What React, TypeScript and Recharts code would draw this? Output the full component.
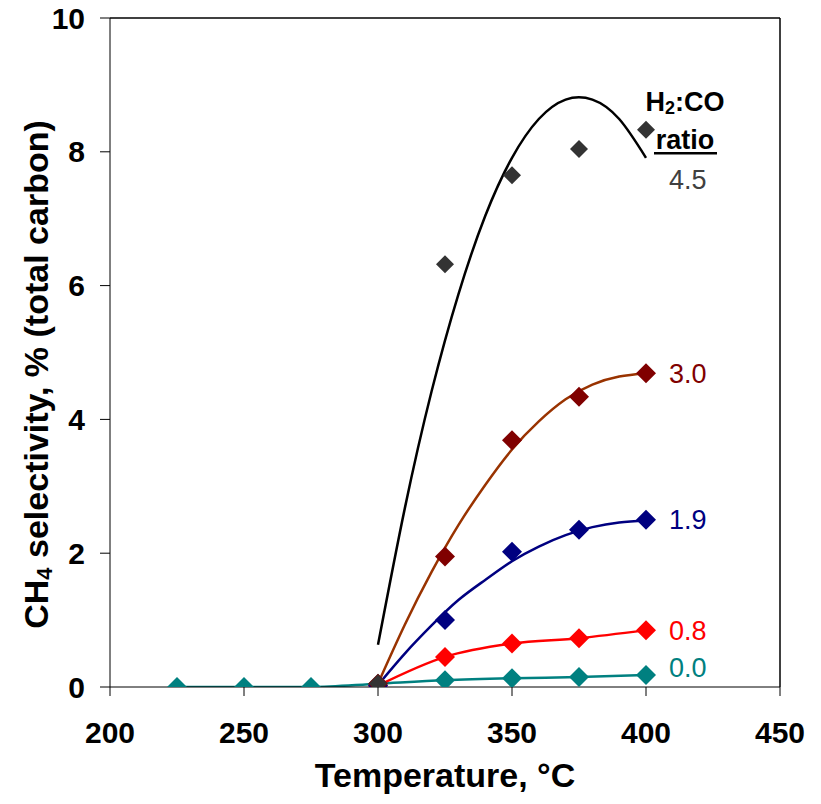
import React from 'react'
import {
  ComposedChart,
  XAxis,
  YAxis,
  Scatter,
  Line,
  ReferenceLine,
  ReferenceDot,
} from 'recharts'

// measured points (temperature, CH4 selectivity %)
const temps = [300, 325, 350, 375, 400]
const ratio45 = [0.05, 6.32, 7.65, 8.04, 8.33]
const ratio30 = [0.05, 1.95, 3.69, 4.34, 4.69]
const ratio19 = [0.02, 1.0, 2.02, 2.35, 2.5]
const ratio08 = [0.02, 0.45, 0.65, 0.73, 0.85]
const temps00 = [225, 250, 275, 300, 325, 350, 375, 400]
const ratio00 = [0, 0, 0, 0.05, 0.1, 0.13, 0.15, 0.18]

// fitted curves
const fitTemps = [300, 310, 320, 330, 340, 350, 360, 370, 380, 390, 400]
const fit45 = [0.63, 2.67, 4.42, 5.87, 7.04, 7.91, 8.49, 8.78, 8.78, 8.49, 7.91]
const fit30 = [0.05, 0.93, 1.72, 2.42, 3.02, 3.55, 3.97, 4.3, 4.52, 4.64, 4.69]
const fit19 = [0.03, 0.5, 0.92, 1.3, 1.6, 1.88, 2.1, 2.27, 2.39, 2.46, 2.49]

const xTicks = [200, 250, 300, 350, 400, 450]
const yTicks = [0, 2, 4, 6, 8, 10]

const toPts = (xs: number[], ys: number[]) => xs.map((x, i) => ({ x, y: ys[i] }))

const FONT = '"Liberation Sans", Arial, sans-serif'

const diamond = (color: string, h: number) => (props: any) => {
  const { cx, cy } = props
  if (cx == null || cy == null) return <g />
  return (
    <polygon
      points={`${cx},${cy - h} ${cx + h},${cy} ${cx},${cy + h} ${cx - h},${cy}`}
      fill={color}
    />
  )
}

const YTitle = (props: any) => {
  const vb = props.viewBox || { x: 0, y: 18, width: 110, height: 669 }
  const cx = vb.x + 36
  const cy = vb.y + vb.height / 2 + 22
  return (
    <text
      x={cx}
      y={cy}
      transform={`rotate(-90, ${cx}, ${cy})`}
      textAnchor="middle"
      dominantBaseline="central"
      fontFamily={FONT}
      fontWeight="bold"
      fontSize={34}
      fill="#000"
    >
      CH<tspan fontSize={22} dy={8}>4</tspan>
      <tspan dy={-8}> selectivity, % (total carbon)</tspan>
    </text>
  )
}

const XTitle = (props: any) => {
  const vb = props.viewBox || { x: 110, y: 687, width: 670, height: 117 }
  return (
    <text
      x={vb.x + vb.width / 2}
      y={775}
      textAnchor="middle"
      dominantBaseline="central"
      fontFamily={FONT}
      fontWeight="bold"
      fontSize={34}
      fill="#000"
    >
      Temperature, °C
    </text>
  )
}

const RatioHeader = (props: any) => {
  const vb = props.viewBox || { x: 0, y: 0 }
  const cx = vb.x + 39
  const cy = vb.y
  return (
    <g fontFamily={FONT} fontWeight="bold" fontSize={27} fill="#000">
      <text x={cx} y={cy} textAnchor="middle" dominantBaseline="central">
        H<tspan fontSize={18} dy={6}>2</tspan>
        <tspan dy={-6}>:CO</tspan>
      </text>
      <text x={cx} y={cy + 38} textAnchor="middle" dominantBaseline="central">
        ratio
      </text>
      <line x1={cx - 31} x2={cx + 32} y1={cy + 51} y2={cy + 51} stroke="#000" strokeWidth={2.5} />
    </g>
  )
}

const ratioNames = ['4.5', '3.0', '1.9', '0.8', '0.0']
const ratioColors = ['#404040', '#800000', '#000080', '#ff0000', '#008080']
const labelAt = [7.58, 4.69, 2.51, 0.84, 0.3]

export default function App() {
  return (
    <div style={{ position: 'absolute', left: 0, top: 0 }}>
      <ComposedChart
        width={821}
        height={804}
        margin={{ top: 18, right: 41, left: 0, bottom: 0 }}
      >
        <XAxis
          type="number"
          dataKey="x"
          domain={[200, 450]}
          ticks={xTicks}
          allowDataOverflow
          height={117}
          tickSize={9}
          tickMargin={26}
          stroke="#000"
          tick={{ fontSize: 30, fontWeight: 'bold', fill: '#000', fontFamily: FONT }}
          label={<XTitle />}
        />
        <YAxis
          type="number"
          dataKey="y"
          domain={[0, 10]}
          ticks={yTicks}
          allowDataOverflow
          width={110}
          tickSize={10}
          tickMargin={15}
          stroke="#000"
          tick={{ fontSize: 30, fontWeight: 'bold', fill: '#000', fontFamily: FONT }}
          label={<YTitle />}
        />
        <ReferenceLine y={10} stroke="#000" strokeWidth={1.5} />
        <ReferenceLine x={450} stroke="#000" strokeWidth={1.5} />

        <Scatter data={toPts(temps00, ratio00)} shape={diamond('#008080', 10)} isAnimationActive={false} />
        <Scatter data={toPts(temps, ratio08)} shape={diamond('#ff0000', 10)} isAnimationActive={false} />
        <Scatter data={toPts(temps, ratio19)} shape={diamond('#000080', 10)} isAnimationActive={false} />
        <Scatter data={toPts(temps, ratio30)} shape={diamond('#800000', 10)} isAnimationActive={false} />
        <Scatter data={toPts(temps, ratio45)} shape={diamond('#333333', 9)} isAnimationActive={false} />

        <Line data={toPts(temps00, ratio00)} dataKey="y" type="monotone" stroke="#008080" strokeWidth={2.5} dot={false} isAnimationActive={false} />
        <Line data={toPts(temps, ratio08)} dataKey="y" type="monotone" stroke="#ff0000" strokeWidth={2.5} dot={false} isAnimationActive={false} />
        <Line data={toPts(fitTemps, fit19)} dataKey="y" type="natural" stroke="#000080" strokeWidth={2.5} dot={false} isAnimationActive={false} />
        <Line data={toPts(fitTemps, fit30)} dataKey="y" type="natural" stroke="#993300" strokeWidth={2.5} dot={false} isAnimationActive={false} />
        <Line data={toPts(fitTemps, fit45)} dataKey="y" type="natural" stroke="#000" strokeWidth={2.5} dot={false} isAnimationActive={false} />

        {ratioNames.map((name, i) => (
          <ReferenceDot
            key={name}
            x={400}
            y={labelAt[i]}
            r={0}
            stroke="none"
            fill="none"
            label={{
              value: name,
              position: 'right',
              offset: 23,
              fill: ratioColors[i],
              fontSize: 27,
              fontFamily: FONT,
            }}
          />
        ))}
        <ReferenceDot x={400} y={8.74} r={0} stroke="none" fill="none" label={<RatioHeader />} />
      </ComposedChart>
    </div>
  )
}
